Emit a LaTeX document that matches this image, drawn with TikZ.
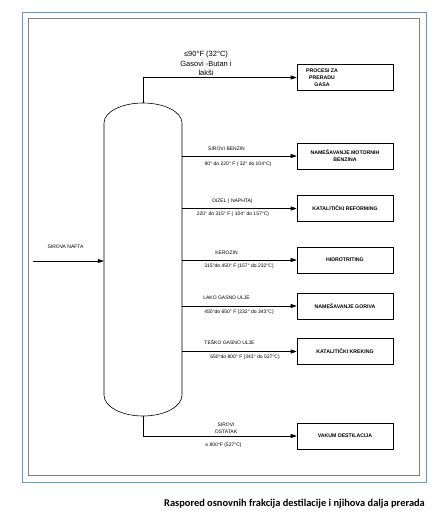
\documentclass[tikz,border=0pt]{standalone}
\usepackage{fontspec}
\setmainfont{Liberation Sans}
\newfontfamily\captionfont{Carlito}
\usetikzlibrary{arrows.meta}
\definecolor{framegray}{RGB}{128,128,128}
\definecolor{frameblue}{RGB}{91,155,213}
\tikzset{
  fracbox/.style={draw, line width=0.6pt, minimum width=96pt, minimum height=26pt,
    inner sep=1pt, align=center, font=\bfseries\fontsize{5.2}{7}\selectfont},
  fraclabel/.style={inner sep=0pt, align=center, font=\fontsize{5}{6.5}\selectfont},
  flow/.style={-{Triangle[length=6pt,width=4pt]}, line width=0.6pt}
}
\begin{document}
\begin{tikzpicture}[x=1pt,y=-1pt]
      \useasboundingbox (0,0) rectangle (434,513);
      % frames
      \draw[frameblue, line width=0.8pt] (22,12) rectangle (426,482);
      \draw[framegray, line width=1pt] (28,19) rectangle (419,475);
      % column
      \draw[line width=0.6pt] (104,123)
        arc[start angle=180, end angle=0, x radius=39pt, y radius=20pt]
        -- (182,395)
        arc[start angle=0, end angle=-180, x radius=39pt, y radius=21pt]
        -- cycle;
      \node (col) [minimum width=78pt, minimum height=313pt, inner sep=0pt] at (143,259.5) {};
      % products
      \draw
        (345,77.5) node[fracbox] (gas) {}
        (345,156) node[fracbox] (benz) {NAMEŠAVANJE MOTORNIH\\BENZINA}
        (345,208.5) node[fracbox] (ref) {KATALITIČKI REFORMING}
        (345,260) node[fracbox] (hidro) {HIDROTRITING}
        (345,306) node[fracbox] (gor) {NAMEŠAVANJE GORIVA}
        (345,351.5) node[fracbox] (krek) {KATALITIČKI KREKING}
        (345,436) node[fracbox] (vak) {VAKUM DESTILACIJA};
      \node[fraclabel, font=\bfseries\fontsize{5.2}{7}\selectfont] (gastext) at (322,77.5) {PROCESI ZA\\PRERADU\\GASA};
      % feed
      \coordinate (feed) at (33,261);
      \node[fraclabel] (feedlabel) at (65.5,247) {SIROVA NAFTA};
      \begin{scope}[flow]
        \draw (feed) -- (feed -| col.west);
        \draw (col.north) |- (gas);
        \draw (col.east |- benz) -- (benz);
        \draw (col.east |- ref) -- (ref);
        \draw (col.east |- hidro) -- (hidro);
        \draw (col.east |- gor) -- (gor);
        \draw (col.east |- krek) -- (krek);
        \draw (col.south) |- (vak);
      \end{scope}
      % labels
      \node[fraclabel, font=\fontsize{7.5}{9.5}\selectfont] (gaslabel) at (206,63.5) {≤90°F (32°C)\\Gasovi -Butan i\\lakši};
      \node[fraclabel] (benzname) at (226.5,149) {SIROVI BENZIN};
      \node[fraclabel] (benztemp) at (238,164) {90° do 220° F ( 32° do 104°C)};
      \node[fraclabel] (refname) at (232.5,201) {DIZEL ( NAPHTA)};
      \node[fraclabel] (reftemp) at (233,214) {220° do 315° F ( 104° do 157°C)};
      \node[fraclabel] (hidroname) at (226.5,253) {KEROZIN};
      \node[fraclabel] (hidrotemp) at (239,266) {315°do 450° F (157° do 232°C)};
      \node[fraclabel] (gorname) at (226.5,298) {LAKO GASNO ULJE};
      \node[fraclabel] (gortemp) at (239,312) {450°do 650° F (232° do 343°C)};
      \node[fraclabel] (krekname) at (229.5,342) {TEŠKO GASNO ULJE};
      \node[fraclabel] (krektemp) at (245,357) {650°do 800° F (343° do 527°C)};
      \node[fraclabel] (vakname) at (226,428.5) {SIROVI\\OSTATAK};
      \node[fraclabel] (vaktemp) at (223.5,445) {≥ 800°F (527°C)};
      % caption
      \node[anchor=east, inner sep=0pt, font=\captionfont\bfseries\fontsize{10.4}{12}\selectfont] (caption) at (425,503.5)
        {Raspored osnovnih frakcija destilacije i njihova dalja prerada};
    \end{tikzpicture}
\end{document}
